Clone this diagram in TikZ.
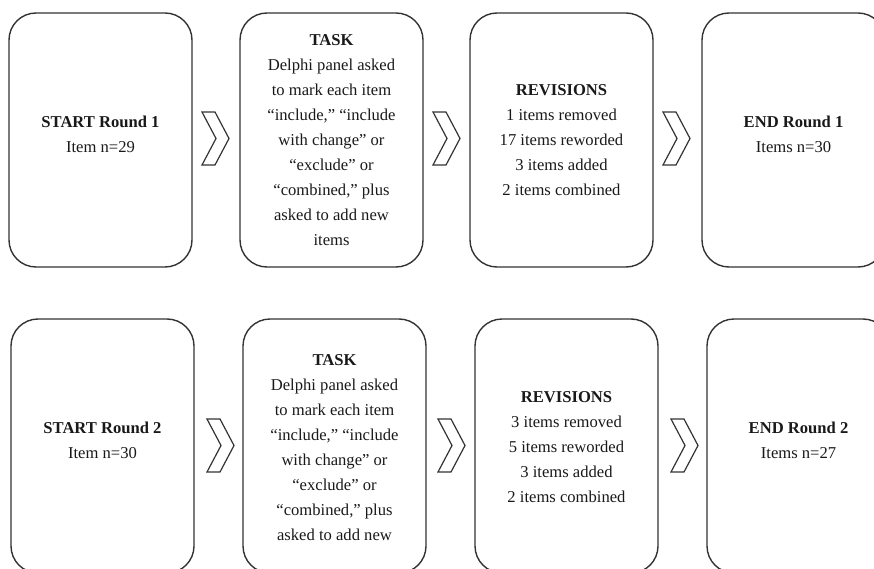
\documentclass[tikz,border=0pt]{standalone}
\usepackage{fontspec}
\setmainfont{Liberation Serif}
\begin{document}
\begin{tikzpicture}[x=1pt,y=-1pt,
  box/.style={draw=black!80, line width=1.4pt, rounded corners=27pt,
    minimum width=183pt, minimum height=254pt, inner sep=0pt},
  txt/.style={align=center, text=black!90, inner sep=0pt,
    font=\fontsize{16.6}{25}\selectfont},
  chev/.style={draw=black!80, line width=1.2pt, line join=miter}]
\useasboundingbox (0,0) rectangle (874,569);
\begin{scope}
\clip (0,0) rectangle (874,569);
% top row
\node[box] (b1) at (100.5,140) {};
\node[box] (b2) at (331.5,140) {};
\node[box] (b3) at (561.5,140) {};
\node[box] (b4) at (793.5,140) {};
% bottom row
\node[box] (c1) at (102.5,446) {};
\node[box] (c2) at (334.5,446) {};
\node[box] (c3) at (566.5,446) {};
\node[box] (c4) at (798.5,446) {};
\end{scope}
% texts top
\node[txt] (t1) at ([yshift=5.5pt]b1.center) {\textbf{START Round 1}\\Item n=29};
\node[txt] (t2) at (b2.center) {\textbf{TASK}\\Delphi panel asked\\to mark each item\\“include,” “include\\with change” or\\“exclude” or\\“combined,” plus\\asked to add new\\items};
\node[txt] (t3) at (b3.center) {\textbf{REVISIONS}\\1 items removed\\17 items reworded\\3 items added\\2 items combined};
\node[txt] (t4) at ([yshift=5.5pt]b4.center) {\textbf{END Round 1}\\Items n=30};
% texts bottom
\node[txt] (u1) at ([yshift=5.5pt]c1.center) {\textbf{START Round 2}\\Item n=30};
\node[txt] (u2) at ([yshift=-1.5pt]c2.center) {\textbf{TASK}\\Delphi panel asked\\to mark each item\\“include,” “include\\with change” or\\“exclude” or\\“combined,” plus\\asked to add new};
\node[txt] (u3) at ([yshift=-1pt]c3.center) {\textbf{REVISIONS}\\3 items removed\\5 items reworded\\3 items added\\2 items combined};
\node[txt] (u4) at ([yshift=5.5pt]c4.center) {\textbf{END Round 2}\\Items n=27};
% chevrons
\foreach \cx/\cy in {202/112, 433/112, 663/112, 207/419, 438/419, 671/419}{
  \draw[chev] (\cx,\cy) -- ++(13,0) -- ++(14,26.5) -- ++(-14,26.5) -- ++(-13,0) -- ++(14,-26.5) -- cycle;
}
\end{tikzpicture}
\end{document}
